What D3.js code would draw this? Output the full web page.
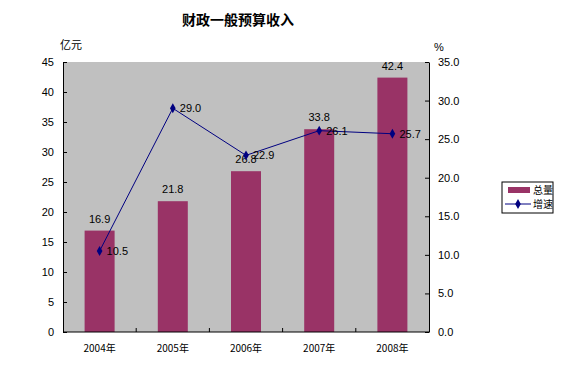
<!DOCTYPE html>
<meta charset="utf-8">
<style>
body { margin: 0; background: #fff; }
text { font-family: "Liberation Sans", Arial, sans-serif; fill: #000; }
.cjk { font-family: "Noto Sans CJK SC", sans-serif; }
</style>
<svg id="chart" width="567" height="370"></svg>
<script src="https://d3js.org/d3.v7.min.js"></script>
<script>

var years = ["2004年", "2005年", "2006年", "2007年", "2008年"];
var totals = [16.9, 21.8, 26.8, 33.8, 42.4];
var growth = [10.5, 29.0, 22.9, 26.1, 25.7];
var leftTicks = [0, 5, 10, 15, 20, 25, 30, 35, 40, 45];
var rightTicks = [0, 5, 10, 15, 20, 25, 30, 35];

var svg = d3.select("#chart");
var pLeft = 63, pRight = 429, pTop = 62, pBottom = 332;

var x = d3.scaleBand().domain(years).range([pLeft, pRight]);
var yL = d3.scaleLinear().domain([0, 45]).range([pBottom, pTop]);
var yR = d3.scaleLinear().domain([0, 35]).range([pBottom, pTop]);

// plot background
svg.append("rect")
    .attr("x", pLeft).attr("y", pTop)
    .attr("width", pRight - pLeft).attr("height", pBottom - pTop)
    .attr("fill", "#c0c0c0");

// bars
var bw = 30;
svg.append("g").selectAll("rect")
    .data(totals)
    .enter().append("rect")
      .attr("x", function(d, i) { return x(years[i]) + x.bandwidth() / 2 - bw / 2; })
      .attr("y", function(d) { return yL(d); })
      .attr("width", bw)
      .attr("height", function(d) { return pBottom - yL(d); })
      .attr("fill", "#993366");

// axes
var axL = svg.append("g").attr("transform", "translate(" + pLeft + ",0)")
    .call(d3.axisLeft(yL).tickValues(leftTicks).tickSizeInner(-4).tickSizeOuter(0).tickPadding(9));
var axR = svg.append("g").attr("transform", "translate(" + pRight + ",0)")
    .call(d3.axisRight(yR).tickValues(rightTicks).tickFormat(d3.format(".1f")).tickSizeInner(-4).tickSizeOuter(0).tickPadding(9));
[axL, axR].forEach(function(a) {
  a.select(".domain").attr("stroke", "#000");
  a.selectAll("line").attr("stroke", "#000");
  a.selectAll("text").attr("font-size", 11).attr("font-family", "Liberation Sans, Arial, sans-serif");
});

// bottom axis
svg.append("line").attr("x1", pLeft).attr("x2", pRight).attr("y1", pBottom).attr("y2", pBottom).attr("stroke", "#000");
svg.append("g").selectAll("line")
    .data(years.slice(1))
    .enter().append("line")
      .attr("x1", function(d) { return x(d); }).attr("x2", function(d) { return x(d); })
      .attr("y1", pBottom).attr("y2", pBottom - 4)
      .attr("stroke", "#000");
svg.append("g").selectAll("text")
    .data(years)
    .enter().append("text")
      .attr("class", "cjk")
      .attr("x", function(d) { return x(d) + x.bandwidth() / 2; })
      .attr("y", 352)
      .attr("text-anchor", "middle")
      .attr("font-size", 10)
      .text(function(d) { return d; });

// bar labels
svg.append("g").selectAll("text")
    .data(totals)
    .enter().append("text")
      .attr("x", function(d, i) { return x(years[i]) + x.bandwidth() / 2; })
      .attr("y", function(d) { return yL(d) - 8; })
      .attr("text-anchor", "middle")
      .attr("font-size", 11)
      .text(function(d) { return d.toFixed(1); });

// growth line
var cx = function(d, i) { return x(years[i]) + x.bandwidth() / 2; };
svg.append("path")
    .datum(growth)
    .attr("fill", "none")
    .attr("stroke", "#000080")
    .attr("stroke-width", 1)
    .attr("d", d3.line().x(cx).y(function(d) { return yR(d); }));
svg.append("g").selectAll("path")
    .data(growth)
    .enter().append("path")
      .attr("d", d3.symbol().type(d3.symbolDiamond).size(28))
      .attr("transform", function(d, i) { return "translate(" + cx(d, i) + "," + yR(d) + ")"; })
      .attr("fill", "#000080");
svg.append("g").selectAll("text")
    .data(growth)
    .enter().append("text")
      .attr("x", function(d, i) { return cx(d, i) + 7; })
      .attr("y", function(d) { return yR(d) + 4; })
      .attr("font-size", 11)
      .text(function(d) { return d.toFixed(1); });

// titles
svg.append("text").attr("class", "cjk")
    .attr("x", 238).attr("y", 25).attr("text-anchor", "middle")
    .attr("font-size", 14).attr("font-weight", "bold")
    .text("财政一般预算收入");
svg.append("text").attr("class", "cjk")
    .attr("x", 60).attr("y", 49).attr("font-size", 11).text("亿元");
svg.append("text")
    .attr("x", 434).attr("y", 51).attr("font-size", 11).text("%");

// legend
var lg = svg.append("g").attr("transform", "translate(502,182)");
lg.append("rect").attr("width", 51).attr("height", 31).attr("fill", "#fff").attr("stroke", "#000");
lg.append("rect").attr("x", 6).attr("y", 5).attr("width", 22).attr("height", 6).attr("fill", "#993366");
lg.append("line").attr("x1", 3).attr("x2", 29).attr("y1", 22).attr("y2", 22).attr("stroke", "#000080");
lg.append("path").attr("d", d3.symbol().type(d3.symbolDiamond).size(28)).attr("transform", "translate(16,22)").attr("fill", "#000080");
lg.append("text").attr("class", "cjk").attr("x", 31).attr("y", 12).attr("font-size", 10).text("总量");
lg.append("text").attr("class", "cjk").attr("x", 31).attr("y", 26).attr("font-size", 10).text("增速");

</script>
